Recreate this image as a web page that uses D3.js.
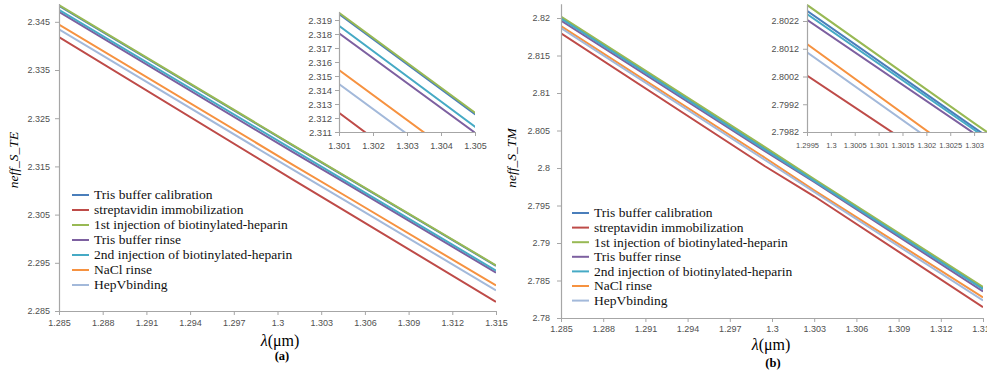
<!DOCTYPE html>
<html>
<head>
<meta charset="utf-8">
<script src="https://cdn.jsdelivr.net/npm/d3@7"></script>
<style>
  body { margin: 0; background: #fff; }
  svg { display: block; }
  .tick text { font-family: "Liberation Sans", Arial, sans-serif; fill: #505050; }
  .domain, .tick line { stroke: #a6a6a6; }
</style>
</head>
<body>
<svg id="chart" width="987" height="374"></svg>
<script>
// legend names, in drawing order
var seriesNames = ["Tris buffer calibration", "streptavidin immobilization",
  "1st injection of biotinylated-heparin", "Tris buffer rinse",
  "2nd injection of biotinylated-heparin", "NaCl rinse", "HepVbinding"];

// (a) TE mode at these wavelengths
var lambdaTE = [1.285, 1.301, 1.305, 1.315];
var teCalib = [2.34832, 2.31942, 2.31228, 2.29438];
var teStrep = [2.34185, 2.31238, 2.30510, 2.28690];
var teInj1  = [2.34849, 2.31952, 2.31238, 2.29448];
var teRinse = [2.34705, 2.31805, 2.31095, 2.29295];
var teInj2  = [2.34749, 2.31859, 2.31138, 2.29338];
var teNaCl  = [2.34443, 2.31543, 2.30829, 2.29029];
var teHepV  = [2.34343, 2.31443, 2.30729, 2.28929];

// (b) TM mode
var lambdaTM = [1.285, 1.2995, 1.303, 1.315];
var tmCalib = [2.82003, 2.80257, 2.79836, 2.78395];
var tmStrep = [2.81795, 2.80023, 2.79623, 2.78145];
var tmInj1  = [2.82020, 2.80278, 2.79852, 2.78415];
var tmRinse = [2.81965, 2.80224, 2.79815, 2.78355];
var tmInj2  = [2.81993, 2.80245, 2.79828, 2.78385];
var tmNaCl  = [2.81893, 2.80137, 2.79701, 2.78275];
var tmHepV  = [2.81865, 2.80107, 2.79680, 2.78235];

// tick values
var xTicksMain = [1.285, 1.288, 1.291, 1.294, 1.297, 1.3, 1.303, 1.306, 1.309, 1.312, 1.315];
var yTicksTE = [2.285, 2.295, 2.305, 2.315, 2.325, 2.335, 2.345];
var yTicksTM = [2.78, 2.785, 2.79, 2.795, 2.8, 2.805, 2.81, 2.815, 2.82];
var xTicksInsetTE = [1.301, 1.302, 1.303, 1.304, 1.305];
var yTicksInsetTE = [2.311, 2.312, 2.313, 2.314, 2.315, 2.316, 2.317, 2.318, 2.319];
var xTicksInsetTM = [1.2995, 1.3, 1.3005, 1.301, 1.3015, 1.302, 1.3025, 1.303];
var yTicksInsetTM = [2.7982, 2.7992, 2.8002, 2.8012, 2.8022];

var colors = ["#4a7ebb", "#be4b48", "#98b954", "#7d60a0", "#46aac5", "#f69240", "#a3b9da"];
var serif = '"Liberation Serif", "Times New Roman", serif';

var svg = d3.select("#chart");

function toSeries(xs, ys) {
  return ys.map(function(vals) {
    return vals.map(function(v, i) { return [xs[i], v]; });
  });
}

var teData = toSeries(lambdaTE, [teCalib, teStrep, teInj1, teRinse, teInj2, teNaCl, teHepV]);
var tmData = toSeries(lambdaTM, [tmCalib, tmStrep, tmInj1, tmRinse, tmInj2, tmNaCl, tmHepV]);

var clipId = 0;

// one plot area: axes + lines
function plot(o) {
  var x = d3.scaleLinear().domain(o.xDomain).range(o.xRange);
  var y = d3.scaleLinear().domain(o.yDomain).range(o.yRange);
  var g = svg.append("g");

  var id = "clip" + (clipId++);
  g.append("clipPath").attr("id", id)
    .append("rect")
      .attr("x", o.xRange[0]).attr("y", o.yRange[1])
      .attr("width", o.xRange[1] - o.xRange[0])
      .attr("height", o.yRange[0] - o.yRange[1]);

  var line = d3.line()
    .x(function(d) { return x(d[0]); })
    .y(function(d) { return y(d[1]); });

  g.append("g").attr("clip-path", "url(#" + id + ")")
    .selectAll("path")
    .data(o.data)
    .enter()
    .append("path")
      .attr("d", line)
      .attr("fill", "none")
      .attr("stroke", function(d, i) { return colors[i]; })
      .attr("stroke-width", 2);

  g.append("g")
    .attr("transform", "translate(0," + o.yRange[0] + ")")
    .call(d3.axisBottom(x).tickValues(o.xTicks).tickFormat(String)
      .tickSizeInner(4).tickSizeOuter(0).tickPadding(o.xPad))
    .call(function(a) { a.selectAll("text").style("font-size", o.xFont + "px"); });

  g.append("g")
    .attr("transform", "translate(" + o.xRange[0] + ",0)")
    .call(d3.axisLeft(y).tickValues(o.yTicks).tickFormat(String)
      .tickSizeInner(4).tickSizeOuter(0).tickPadding(o.yPad))
    .call(function(a) { a.selectAll("text").style("font-size", o.yFont + "px"); });

  g.selectAll(".domain").attr("stroke-width", 1.2);
}

function legend(x0, y0, step) {
  var lg = svg.append("g");
  seriesNames.forEach(function(name, i) {
    var yy = y0 + i * step;
    lg.append("line")
      .attr("x1", x0).attr("x2", x0 + 17)
      .attr("y1", yy).attr("y2", yy)
      .attr("stroke", colors[i]).attr("stroke-width", 2);
    lg.append("text")
      .attr("x", x0 + 22).attr("y", yy)
      .attr("dy", "0.33em")
      .style("font-family", serif)
      .style("font-size", "13.5px")
      .style("fill", "#111")
      .text(name);
  });
}

function titles(cx, yLabel, lx, ly, lyBase, tag, tagY) {
  svg.append("text")
    .attr("transform", "translate(" + lx + "," + ly + ") rotate(-90)")
    .attr("text-anchor", "middle")
    .style("font-family", serif).style("font-style", "italic")
    .style("font-size", "13.5px")
    .text(yLabel);
  var t = svg.append("text")
    .attr("x", cx).attr("y", lyBase)
    .attr("text-anchor", "middle")
    .style("font-family", serif).style("font-size", "16px");
  t.append("tspan").style("font-style", "italic").text("λ");
  t.append("tspan").text("(μm)");
  svg.append("text")
    .attr("x", cx + 2).attr("y", tagY)
    .attr("text-anchor", "middle")
    .style("font-family", serif).style("font-weight", "bold")
    .style("font-size", "12.5px")
    .text(tag);
}

// (a) main
plot({ data: teData, xDomain: [1.285, 1.315], xRange: [59, 496],
  yDomain: [2.285, 2.3488], yRange: [311, 3.5],
  xTicks: xTicksMain, yTicks: yTicksTE, xPad: 5, yPad: 5, xFont: 9, yFont: 9 });
// (a) inset
plot({ data: teData, xDomain: [1.301, 1.305], xRange: [339, 475],
  yDomain: [2.311, 2.3196], yRange: [132, 11.6],
  xTicks: xTicksInsetTE, yTicks: yTicksInsetTE, xPad: 7, yPad: 3, xFont: 9, yFont: 9.5 });
legend(72, 195, 15);
titles(280, "neff_S_TE", 18, 160, 346, "(a)", 360);

// (b) main
plot({ data: tmData, xDomain: [1.285, 1.315], xRange: [561, 983],
  yDomain: [2.78, 2.8219], yRange: [318, 3.75],
  xTicks: xTicksMain, yTicks: yTicksTM, xPad: 4, yPad: 7, xFont: 9, yFont: 9 });
// (b) inset
plot({ data: tmData, xDomain: [1.2995, 1.30327], xRange: [807, 987],
  yDomain: [2.7982, 2.8028], yRange: [132, 4.35],
  xTicks: xTicksInsetTM, yTicks: yTicksInsetTM, xPad: 7, yPad: 4, xFont: 7.5, yFont: 9 });
legend(572, 213, 14.6);
titles(771, "neff_S_TM", 516, 158, 350, "(b)", 367);
</script>
</body>
</html>
